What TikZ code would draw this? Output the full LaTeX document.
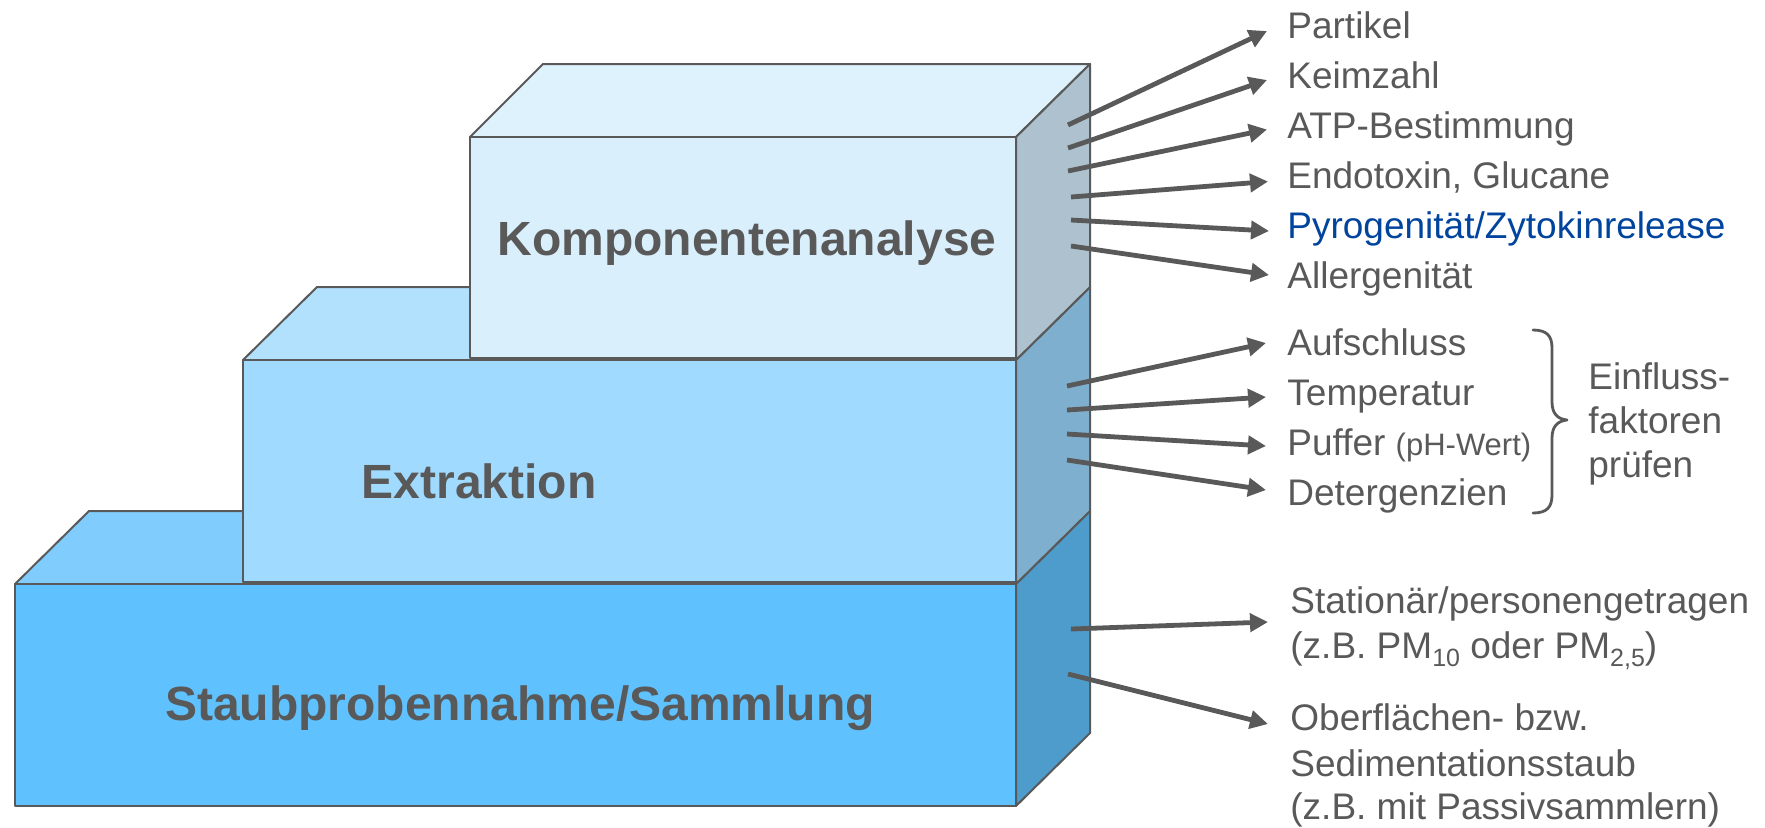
\documentclass[tikz,border=0pt]{standalone}
\usepackage{fontspec}
\setmainfont{Liberation Sans}
\usetikzlibrary{arrows.meta}
\definecolor{edgegray}{HTML}{595959}
\definecolor{txtgray}{HTML}{595959}
\definecolor{txtblue}{HTML}{00449E}
\definecolor{topFront}{HTML}{D9EFFC}
\definecolor{topTop}{HTML}{DEF2FD}
\definecolor{topSide}{HTML}{ADC2CE}
\definecolor{midFront}{HTML}{A0DAFE}
\definecolor{midTop}{HTML}{B2E1FE}
\definecolor{midSide}{HTML}{7FAFCE}
\definecolor{botFront}{HTML}{5FC1FD}
\definecolor{botTop}{HTML}{80CDFD}
\definecolor{botSide}{HTML}{4D9CCC}
\tikzset{
  edge/.style={draw=edgegray, line width=1pt, line join=round},
  arr/.style={draw=edgegray, line width=2.4pt, -{Triangle[length=9pt,width=9pt]}},
  lbl/.style={anchor=base west, inner sep=0pt, text=txtgray, font=\fontsize{18.5}{22}\selectfont},
  boxtitle/.style={anchor=base, inner sep=0pt, text=txtgray, font=\bfseries\fontsize{24}{28}\selectfont},
  bracestyle/.style={draw=edgegray, line width=1.4pt, line cap=round, line join=round},
}
\begin{document}
\begin{tikzpicture}[x=0.5pt,y=-0.5pt]
\useasboundingbox (0,0) rectangle (1765,827);

% bottom box
\filldraw[edge, fill=botTop] (15,584) -- (89,511) -- (1090,511) -- (1016,584) -- cycle;
\filldraw[edge, fill=botSide] (1016,584) -- (1090,511) -- (1090,733) -- (1016,806) -- cycle;
\filldraw[edge, fill=botFront] (15,584) rectangle (1016,806);
% middle box
\filldraw[edge, fill=midTop] (243,360) -- (317,287) -- (1090,287) -- (1016,360) -- cycle;
\filldraw[edge, fill=midSide] (1016,360) -- (1090,287) -- (1090,511) -- (1016,584) -- cycle;
\filldraw[edge, fill=midFront] (243,360) rectangle (1016,582);
% top box
\filldraw[edge, fill=topTop] (470,137) -- (543,64) -- (1090,64) -- (1016,137) -- cycle;
\filldraw[edge, fill=topSide] (1016,137) -- (1090,64) -- (1090,287) -- (1016,360) -- cycle;
\filldraw[edge, fill=topFront] (470,137) rectangle (1016,358);

% titles
\node[boxtitle] (komp) at (747,255) {Komponentenanalyse};
\node[boxtitle] (extr) at (479,498) {Extraktion};
\node[boxtitle] (staub) at (520,720) {Staubprobennahme/Sammlung};

% top list
\node[lbl] (l1) at (1287,38.3) {Partikel};
\node[lbl] (l2) at (1287,88.3) {Keimzahl};
\node[lbl] (l3) at (1287,138.3) {ATP-Bestimmung};
\node[lbl] (l4) at (1287,188.3) {Endotoxin, Glucane};
\node[lbl, text=txtblue] (l5) at (1287,238.3) {Pyrogenität/Zytokinrelease};
\node[lbl] (l6) at (1287,288.3) {Allergenität};

% middle list
\node[lbl] (m1) at (1287,355) {Aufschluss};
\node[lbl] (m2) at (1287,405) {Temperatur};
\node[lbl] (m3) at (1287,455) {Puffer {\fontsize{15.5}{18}\selectfont (pH-Wert)}};
\node[lbl] (m4) at (1287,505) {Detergenzien};

% brace and note
\draw[bracestyle] (1533,330) .. controls (1547,330) and (1552,336) .. (1552,348)
  -- (1552,402) .. controls (1552,413) and (1557,419) .. (1567,420)
  .. controls (1557,421) and (1552,427) .. (1552,438)
  -- (1552,495) .. controls (1552,507) and (1547,513) .. (1533,513);
\node[lbl] (e1) at (1588,389) {Einfluss-};
\node[lbl] (e2) at (1588,433) {faktoren};
\node[lbl] (e3) at (1588,477) {prüfen};

% bottom list
\node[lbl] (b1) at (1290,613) {Stationär/personengetragen};
\node[lbl] (b2) at (1290,658) {(z.B. PM\raisebox{-4pt}{\fontsize{12.5}{12.5}\selectfont 10} oder PM\raisebox{-4pt}{\fontsize{12.5}{12.5}\selectfont 2,5})};
\node[lbl] (b3) at (1290,730) {Oberflächen- bzw.};
\node[lbl] (b4) at (1290,776) {Sedimentationsstaub};
\node[lbl] (b5) at (1290,819) {(z.B. mit Passivsammlern)};

% arrow end points
\coordinate (s1) at (1068,125);  \coordinate (t1) at (1267,31);
\coordinate (s2) at (1068,148);  \coordinate (t2) at (1267,80);
\coordinate (s3) at (1068,171);  \coordinate (t3) at (1267,129.5);
\coordinate (s4) at (1071,197);  \coordinate (t4) at (1268,181.5);
\coordinate (s5) at (1071,220);  \coordinate (t5) at (1269,231);
\coordinate (s6) at (1071,246);  \coordinate (t6) at (1269,275);
\coordinate (u1) at (1067,386);  \coordinate (v1) at (1266,343);
\coordinate (u2) at (1067,410);  \coordinate (v2) at (1266,397);
\coordinate (u3) at (1067,434);  \coordinate (v3) at (1266,446);
\coordinate (u4) at (1067,460);  \coordinate (v4) at (1266,490);
\coordinate (w1) at (1071,629);  \coordinate (x1) at (1268,622);
\coordinate (w2) at (1068,674);  \coordinate (x2) at (1268,724);

\foreach \a/\b in {s1/t1,s2/t2,s3/t3,s4/t4,s5/t5,s6/t6,u1/v1,u2/v2,u3/v3,u4/v4,w1/x1,w2/x2}
  \draw[arr] (\a) -- (\b);
\end{tikzpicture}
\end{document}
